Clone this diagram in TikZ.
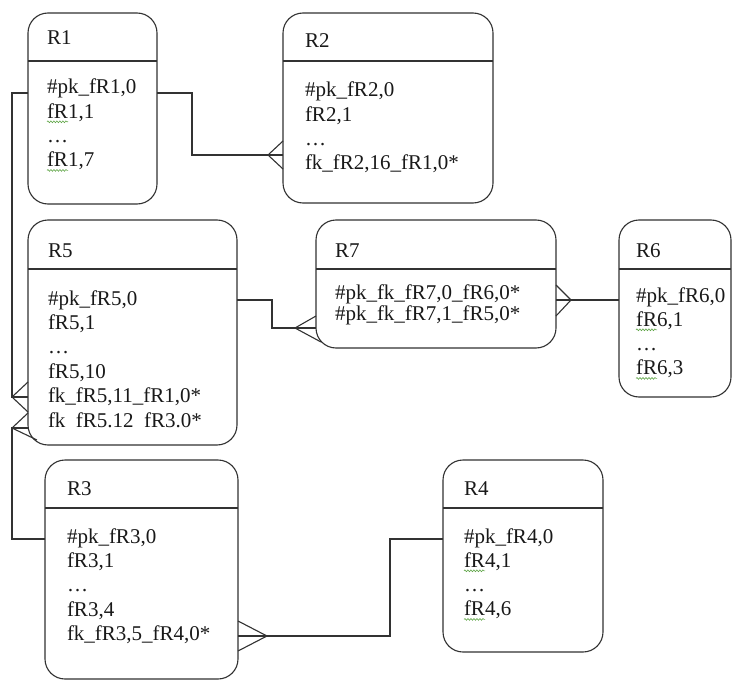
\documentclass[tikz,border=0pt]{standalone}
\usepackage{fontspec}
\setmainfont{Liberation Serif}
\usetikzlibrary{calc,decorations.pathmorphing}
\definecolor{ln}{RGB}{50,50,50}
\definecolor{tx}{RGB}{25,25,25}
\definecolor{wv}{RGB}{95,165,70}
\tikzset{
  box/.style={draw=ln, rounded corners=20pt, inner sep=0pt, outer sep=0pt, line width=1.1pt},
  txt/.style={inner sep=0pt, outer sep=0pt, text=tx, font=\fontsize{21}{24}\selectfont},
  conn/.style={draw=ln, line width=1.1pt},
  wave/.style={draw=wv, line width=0.6pt, decorate, decoration={snake, amplitude=0.9pt, segment length=3pt}}
}
% name, left, top, right, bottom, header line
\newcommand\erbox[6]{%
  \node[box, minimum width={(#4-#2)*1pt}, minimum height={(#5-#3)*1pt}] (#1) at ({(#2+#4)/2},{(#3+#5)/2}) {};
  \draw[conn] (#1.west |- 0,#6) -- (#1.east |- 0,#6);}
% name, x, label baseline, first row baseline, row step, rows
\newcommand\rows[6]{%
  \node[txt, anchor=base west] (#1-h) at (#2,#3) {#1};
  \foreach \t [count=\i] in {#6} \node[txt, anchor=base west] (#1-\i) at (#2,{#4+(\i-1)*#5}) {\t};}
\newcommand\squig[1]{\draw[wave] ($(#1.base west)+(0,3.5)$) -- ++(21,0);}
\begin{document}
\begin{tikzpicture}[x=1pt, y=-1pt]
\useasboundingbox (0,0) rectangle (739,682);
\fill[white] (0,0) rectangle (739,682);

\erbox{R1}{28}{13}{157}{204}{61}
\erbox{R2}{283}{13}{493}{203}{61}
\erbox{R5}{28}{220}{237}{445}{269}
\erbox{R7}{316}{220}{556}{348}{269}
\erbox{R6}{619}{220}{731}{397}{269}
\erbox{R3}{45}{460}{238}{679}{508}
\erbox{R4}{443}{460}{603}{652}{508}

\rows{R1}{47}{45}{94}{24.3}{{\#pk\_fR1,0},{fR1,1},{…},{fR1,7}}
\rows{R2}{305}{48}{97}{24.3}{{\#pk\_fR2,0},{fR2,1},{…},{fk\_fR2,16\_fR1,0*}}
\rows{R5}{48}{257}{305}{24.4}{{\#pk\_fR5,0},{fR5,1},{…},{fR5,10},{fk\_fR5,11\_fR1,0*},{fk\hspace{0.5em}fR5.12\hspace{0.5em}fR3.0*}}
\rows{R7}{335}{257}{299}{21.5}{{\#pk\_fk\_fR7,0\_fR6,0*},{\#pk\_fk\_fR7,1\_fR5,0*}}
\rows{R6}{636}{257}{302}{24.3}{{\#pk\_fR6,0},{fR6,1},{…},{fR6,3}}
\rows{R3}{67}{495}{543}{24.4}{{\#pk\_fR3,0},{fR3,1},{…},{fR3,4},{fk\_fR3,5\_fR4,0*}}
\rows{R4}{464}{495}{543}{24.3}{{\#pk\_fR4,0},{fR4,1},{…},{fR4,6}}

\squig{R1-2}\squig{R1-4}\squig{R6-2}\squig{R6-4}\squig{R4-2}\squig{R4-4}

% R1 -- R2
\draw[conn] (R1.east |- 0,93) -- (192,93) -- (192,155) -- (R2.west |- 0,155);
\draw[conn] (R2.west |- 0,141) -- (268,155) -- (R2.west |- 0,169);
% R1 -- R5
\draw[conn] (R1.west |- 0,93) -- (12,93) -- (12,397) -- (R5.west |- 0,397);
\draw[conn] (R5.west |- 0,382) -- (12,397) -- (R5.west |- 0,412);
% R3 -- R5
\draw[conn] (R3.west |- 0,539) -- (12,539) -- (12,428) -- (R5.west |- 0,428);
\draw[conn] (R5.west |- 0,413) -- (12,428) -- (37,440);
% R5 -- R7
\draw[conn] (R5.east |- 0,300) -- (272,300) -- (272,328) -- (R7.west |- 0,328);
\draw[conn] (R7.west |- 0,316) -- (295,328) -- (321,342);
% R7 -- R6
\draw[conn] (R7.east |- 0,300) -- (R6.west |- 0,300);
\draw[conn] (R7.east |- 0,285) -- (571,300) -- (R7.east |- 0,316);
% R3 -- R4
\draw[conn] (R3.east |- 0,636) -- (390,636) -- (390,539) -- (R4.west |- 0,539);
\draw[conn] (R3.east |- 0,621) -- (267,636) -- (R3.east |- 0,651);
\end{tikzpicture}
\end{document}
